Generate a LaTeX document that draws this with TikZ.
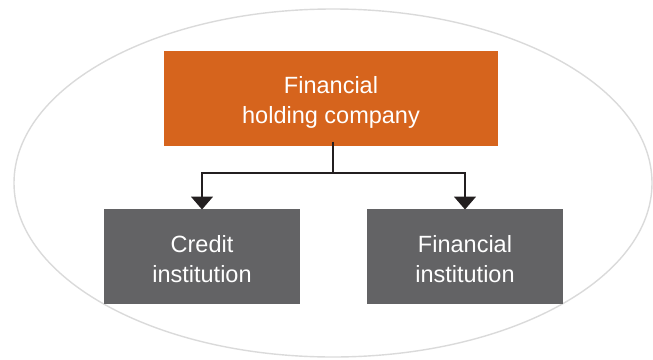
\documentclass[tikz,border=0pt]{standalone}
\usepackage{fontspec}
\setmainfont{Liberation Sans}
\usetikzlibrary{arrows.meta}
\definecolor{hold}{RGB}{214,100,29}
\definecolor{inst}{RGB}{99,99,101}
\definecolor{ring}{RGB}{218,218,218}
\definecolor{conn}{RGB}{35,31,32}
\begin{document}
\begin{tikzpicture}[x=1pt,y=-1pt,
  box/.style={inner sep=0pt, outer sep=0pt, minimum height=95pt},
  boxtext/.style={inner sep=0pt, text=white, align=center,
    font=\fontsize{23.5}{30}\selectfont},
  link/.style={conn, line width=1.8pt, -{Triangle[width=22pt,length=13pt]}}]
\useasboundingbox (0,0) rectangle (653,359);
\draw[ring, line width=1.4pt] (333,183) ellipse [x radius=319, y radius=174];
\node[box, fill=hold, minimum width=334pt] (fhc) at (331,98) {};
\node[box, fill=inst, minimum width=196pt] (ci) at (202,256) {};
\node[box, fill=inst, minimum width=196pt] (fi) at (465,256) {};
\node[boxtext] (fhct) at ([yshift=-4pt]fhc.center) {Financial\\holding company};
\node[boxtext] (cit) at ([yshift=-3pt]ci.center) {Credit\\institution};
\node[boxtext] (fit) at ([yshift=-3pt]fi.center) {Financial\\institution};
\coordinate (split) at (333,173);
\draw[conn, line width=1.8pt] ([yshift=4pt]fhc.south -| split) -- (split);
\draw[link] (split) -| ([yshift=-1pt]ci.north);
\draw[link] (split) -| ([yshift=-1pt]fi.north);
\end{tikzpicture}
\end{document}
